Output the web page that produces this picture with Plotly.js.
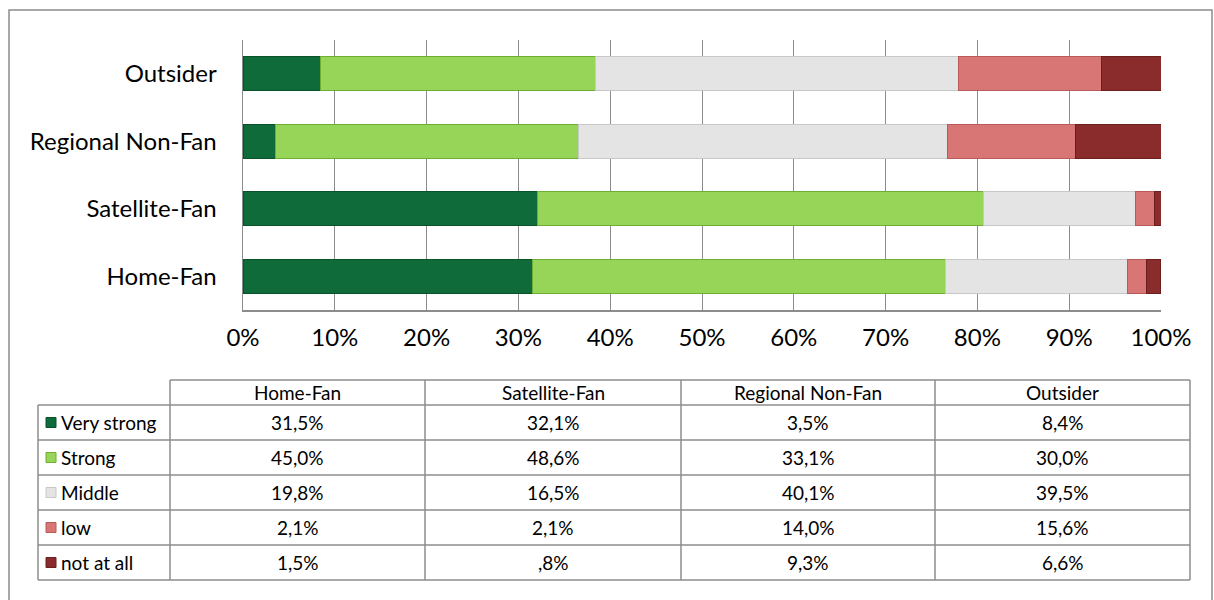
<!DOCTYPE html>
<html>
<head>
<meta charset="utf-8">
<script src="https://cdn.plot.ly/plotly-3.0.1.min.js"></script>
<style>
html,body{margin:0;padding:0;background:#fff;}
#chart{width:1214px;height:600px;}
</style>
</head>
<body>
<div id="chart"></div>
<script>
// ---- data ----
const categories = ['Home-Fan', 'Satellite-Fan', 'Regional Non-Fan', 'Outsider'];
const levels = ['Very strong', 'Strong', 'Middle', 'low', 'not at all'];
const veryStrong = [31.5, 32.1, 3.5, 8.4];
const strong = [45.0, 48.6, 33.1, 30.0];
const middle = [19.8, 16.5, 40.1, 39.5];
const low = [2.1, 2.1, 14.0, 15.6];
const notAtAll = [1.5, 0.8, 9.3, 6.6];
const xTickValues = [0, 10, 20, 30, 40, 50, 60, 70, 80, 90, 100];
const xTickLabels = ['0%', '10%', '20%', '30%', '40%', '50%', '60%', '70%', '80%', '90%', '100%'];

const seriesValues = [veryStrong, strong, middle, low, notAtAll];
const colors = ['#0f6b3a', '#96d557', '#e4e4e4', '#d87676', '#8a2c2c'];
const lineColors = ['#0a5029', '#6fae35', '#c8c8c8', '#b85a5a', '#6a1e1e'];

const W = 1214, H = 600;
const L = 243, R = 1161, T = 40, B = 310;
const pw = R - L, ph = B - T;
const fx = px => (px - L) / pw;
const fy = py => (B - py) / ph;
const FONT = 'Lato, "Open Sans", sans-serif';

const traces = levels.map((lv, i) => ({
  type: 'bar',
  orientation: 'h',
  name: lv,
  y: categories,
  x: seriesValues[i],
  width: 0.5,
  marker: {color: colors[i], line: {color: lineColors[i], width: 1}},
  hoverinfo: 'x+y+name'
}));

function fmt(v) {
  let s = v.toFixed(1).replace('.', ',');
  if (s.startsWith('0,')) s = s.slice(1);
  return s + '%';
}

const shapes = [];
const annotations = [];
const gridC = '#8c8c8c';
function hline(y, x0, x1) {
  shapes.push({type: 'line', xref: 'paper', yref: 'paper', x0: fx(x0), x1: fx(x1), y0: fy(y), y1: fy(y), line: {color: gridC, width: 1.5}});
}
function vline(x, y0, y1) {
  shapes.push({type: 'line', xref: 'paper', yref: 'paper', x0: fx(x), x1: fx(x), y0: fy(y0), y1: fy(y1), line: {color: gridC, width: 1.5}});
}

// outer border
shapes.push({type: 'rect', xref: 'paper', yref: 'paper', x0: fx(9), x1: fx(1212), y0: fy(10), y1: fy(640), line: {color: '#8c8c8c', width: 1.5}, fillcolor: 'rgba(0,0,0,0)'});

// table geometry
const colEdges = [170, 425, 681, 935, 1190];
const headTop = 380, headBot = 405, rowH = 35;
const labelLeft = 38;
hline(headTop, colEdges[0], colEdges[4]);
for (let r = 0; r <= levels.length; r++) hline(headBot + r * rowH, labelLeft, colEdges[4]);
vline(labelLeft, headBot, headBot + levels.length * rowH);
colEdges.forEach(x => vline(x, headTop, headBot + levels.length * rowH));

const TS = 19;
// headers
categories.forEach((c, j) => {
  annotations.push({xref: 'paper', yref: 'paper', x: fx((colEdges[j] + colEdges[j + 1]) / 2), y: fy((headTop + headBot) / 2),
    text: c, showarrow: false, xanchor: 'center', yanchor: 'middle', font: {family: FONT, size: TS, color: '#000'}});
});
// rows
levels.forEach((lv, i) => {
  const cy = headBot + i * rowH + rowH / 2;
  shapes.push({type: 'rect', xref: 'paper', yref: 'paper', x0: fx(46), x1: fx(56), y0: fy(cy - 5), y1: fy(cy + 5),
    fillcolor: colors[i], line: {color: lineColors[i], width: 1}});
  annotations.push({xref: 'paper', yref: 'paper', x: fx(59), y: fy(cy), text: lv, showarrow: false,
    xanchor: 'left', yanchor: 'middle', font: {family: FONT, size: TS, color: '#000'}});
  categories.forEach((c, j) => {
    annotations.push({xref: 'paper', yref: 'paper', x: fx((colEdges[j] + colEdges[j + 1]) / 2), y: fy(cy),
      text: fmt(seriesValues[i][j]), showarrow: false, xanchor: 'center', yanchor: 'middle', font: {family: FONT, size: TS, color: '#000'}});
  });
});

const layout = {
  width: W, height: H,
  margin: {l: L, r: W - R, t: T, b: H - B, pad: 0},
  paper_bgcolor: '#fff', plot_bgcolor: '#fff',
  barmode: 'stack',
  showlegend: false,
  xaxis: {
    range: [0, 100], tickmode: 'array', tickvals: xTickValues, ticktext: xTickLabels,
    showgrid: true, gridcolor: gridC, gridwidth: 1,
    showline: true, linecolor: gridC, linewidth: 1.5,
    ticks: '', ticklabelstandoff: 6, zeroline: false,
    tickfont: {family: FONT, size: 24, color: '#000'}, fixedrange: true
  },
  yaxis: {
    type: 'category', categoryorder: 'array', categoryarray: categories,
    range: [-0.5, 3.5], showgrid: false, zeroline: false,
    showline: true, linecolor: gridC, linewidth: 1.5,
    ticks: '', ticklabelstandoff: 20,
    tickfont: {family: FONT, size: 24, color: '#000'}, fixedrange: true
  },
  shapes: shapes,
  annotations: annotations
};

Plotly.newPlot('chart', traces, layout, {displayModeBar: false, staticPlot: true});
</script>
</body>
</html>
